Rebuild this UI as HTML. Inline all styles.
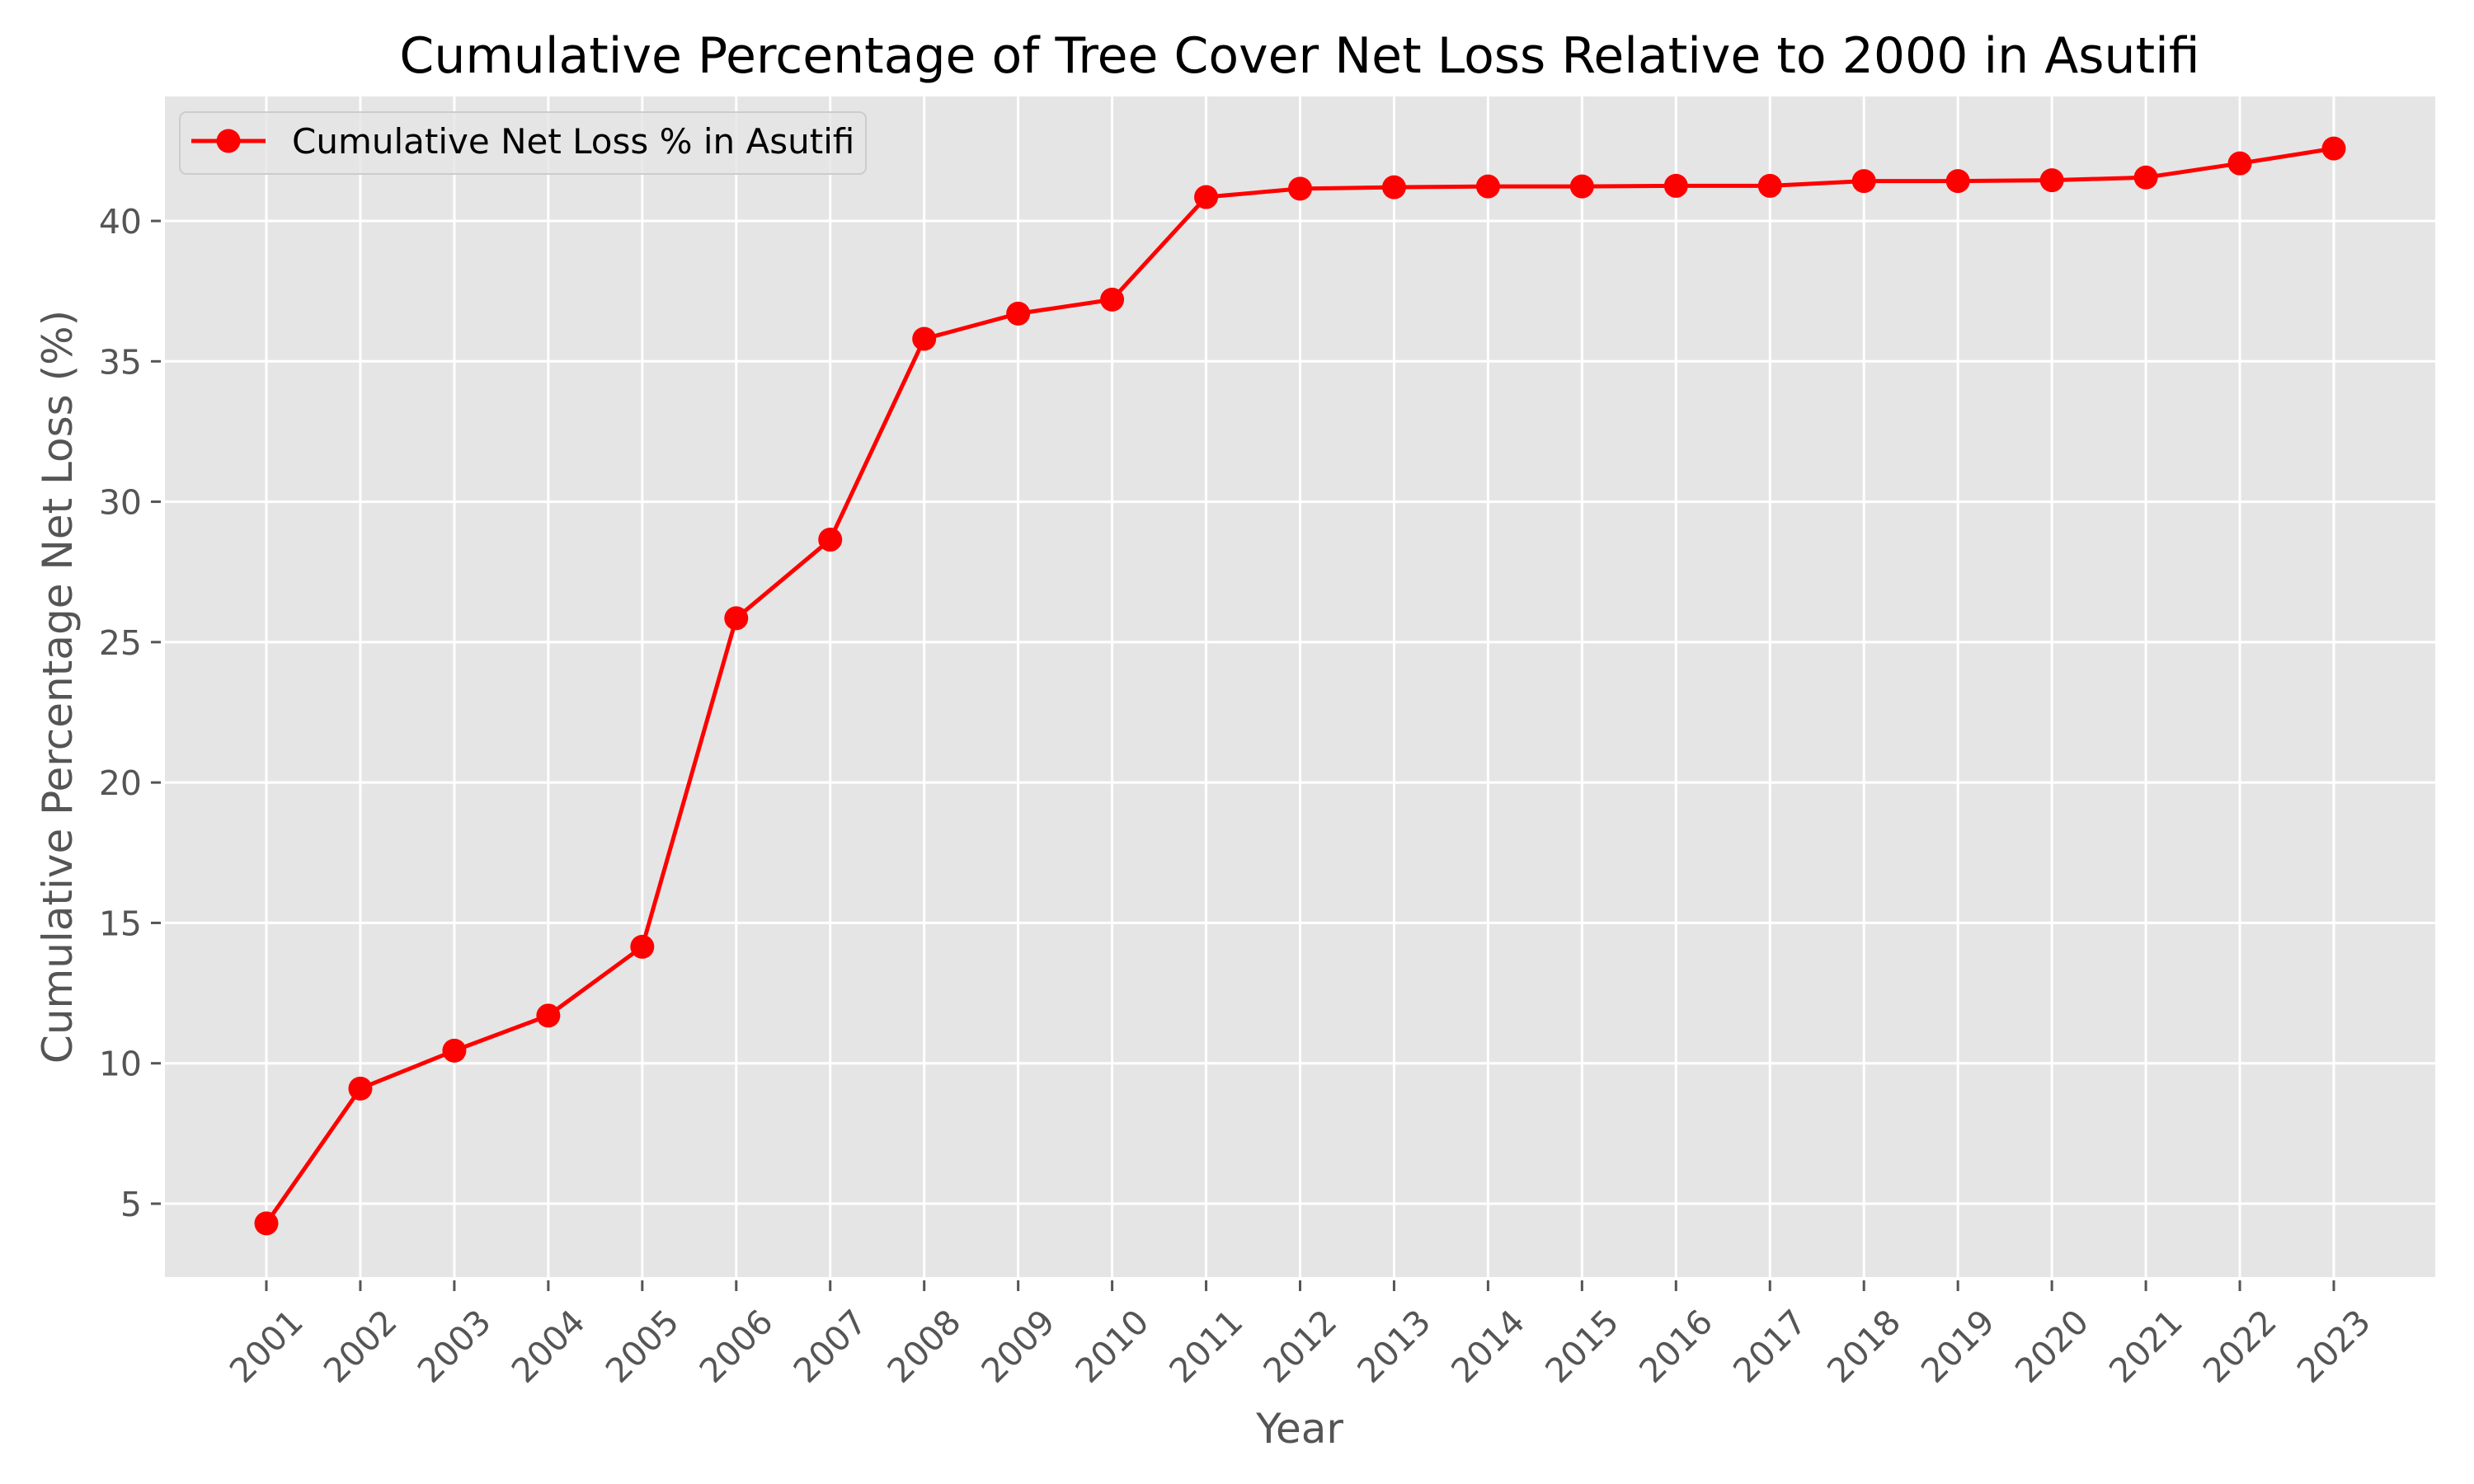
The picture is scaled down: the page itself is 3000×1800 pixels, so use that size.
<!DOCTYPE html>
<html><head><meta charset="utf-8"><style>body{margin:0;background:#fff}svg{display:block}text{font-family:"DejaVu Sans","Liberation Sans",sans-serif}</style></head>
<body>
<svg id="chart" width="3000" height="1800">
<rect x="200" y="117" width="2753" height="1432" fill="#e5e5e5"/>
<g id="grid"></g><g id="axes"></g><g id="series"></g>
<text x="1576" y="88" font-size="60" text-anchor="middle" fill="#000">Cumulative Percentage of Tree Cover Net Loss Relative to 2000 in Asutifi</text>
<text x="1576" y="1750" font-size="50" text-anchor="middle" fill="#555">Year</text>
<text transform="translate(87,833) rotate(-90)" font-size="50" text-anchor="middle" fill="#555">Cumulative Percentage Net Loss (%)</text>
<g>
<rect x="218" y="136" width="832" height="75" rx="8" fill="#e5e5e5" fill-opacity="0.8" stroke="#cccccc" stroke-width="2"/>
<line x1="232" y1="171" x2="322" y2="171" stroke="#ff0000" stroke-width="5"/>
<circle cx="277" cy="171" r="14.5" fill="#ff0000"/>
<text x="354" y="186" font-size="42" fill="#000">Cumulative Net Loss % in Asutifi</text>
</g>
</svg>
<script>
const years=[2001,2002,2003,2004,2005,2006,2007,2008,2009,2010,2011,2012,2013,2014,2015,2016,2017,2018,2019,2020,2021,2022,2023];
const lossPct=[4.3,9.1,10.45,11.7,14.15,25.85,28.65,35.8,36.7,37.2,40.85,41.15,41.2,41.23,41.23,41.25,41.25,41.42,41.42,41.45,41.55,42.05,42.58];
const yTicks=[5,10,15,20,25,30,35,40];
const NS="http://www.w3.org/2000/svg";
const x=i=>323+(i)*(2830-323)/(years.length-1);
const y=v=>1460-(v-5)*(1460-268)/35;
function mk(tag,attrs,parent){const e=document.createElementNS(NS,tag);for(const k in attrs)e.setAttribute(k,attrs[k]);parent.appendChild(e);return e;}
const grid=document.getElementById('grid'),axes=document.getElementById('axes'),ser=document.getElementById('series');
yTicks.forEach(t=>{
 const g=mk('line',{x1:200,x2:2953,y1:y(t),y2:y(t),stroke:'#fff','stroke-width':3},grid);
 
 
 const tk=mk('line',{x1:183,x2:195,y1:y(t),y2:y(t),stroke:'#555','stroke-width':3},axes);
 
 
 const l=mk('text',{x:172,y:y(t)+15,'font-size':41,'text-anchor':'end',fill:'#555'},axes);
 l.textContent=t;
 
 
});
years.forEach((yr,i)=>{
 const g=mk('line',{x1:x(i),x2:x(i),y1:117,y2:1549,stroke:'#fff','stroke-width':3},grid);
 
 
 const tk=mk('line',{x1:x(i),x2:x(i),y1:1553,y2:1566,stroke:'#555','stroke-width':3},axes);
 
 
 const l=mk('text',{x:x(i),y:1633,'font-size':41,'text-anchor':'middle','dominant-baseline':'central',fill:'#555',transform:`rotate(-45 ${x(i)} 1633)`},axes);
 l.textContent=yr;
 
 
});
const p=mk('polyline',{points:lossPct.map((v,i)=>x(i)+','+y(v)).join(' '),fill:'none',stroke:'#ff0000','stroke-width':5,'stroke-linejoin':'round'},ser);


lossPct.forEach((v,i)=>{
 const c=mk('circle',{cx:x(i),cy:y(v),r:14.5,fill:'#ff0000'},ser);
 
 
});
</script>
</body></html>
